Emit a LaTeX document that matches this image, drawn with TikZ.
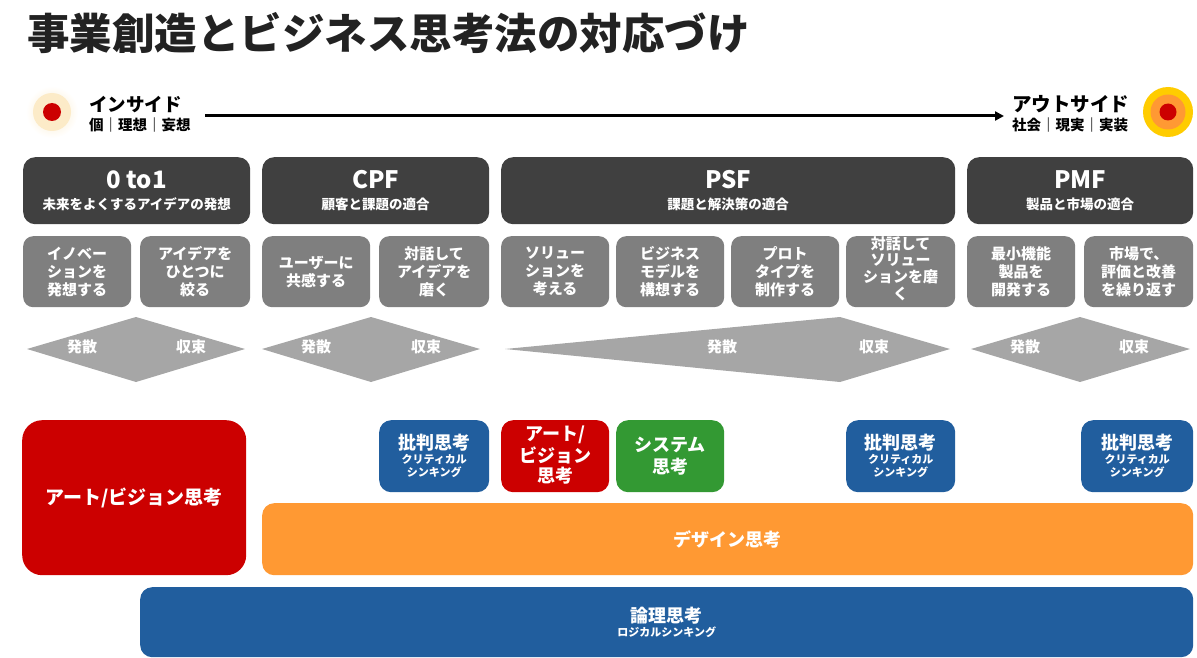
\documentclass[tikz,border=0pt]{standalone}
\usepackage{fontspec}
\setmainfont{Noto Sans CJK JP}
\usetikzlibrary{arrows.meta}
\definecolor{titleink}{HTML}{222222}
\definecolor{phasegray}{HTML}{404040}
\definecolor{stepgray}{HTML}{7F7F7F}
\definecolor{wavegray}{HTML}{A6A6A6}
\definecolor{artred}{HTML}{CC0000}
\definecolor{logicblue}{HTML}{215E9E}
\definecolor{systemgreen}{HTML}{339933}
\definecolor{designorange}{HTML}{FF9933}
\definecolor{glowcream}{HTML}{FCEBC8}
\definecolor{sunyellow}{HTML}{FFCC00}

\begin{document}
\begin{tikzpicture}[x=1pt, y=-1pt]
    \tikzstyle{phasebox}=[fill=phasegray, rounded corners=12pt, anchor=north west, minimum height=67pt, text=white, align=center, inner sep=0pt, font=\fontsize{13.5}{16}\selectfont\bfseries]
    \tikzstyle{stepbox}=[fill=stepgray, rounded corners=10pt, anchor=north west, minimum height=71pt, text=white, align=center, inner sep=0pt, font=\fontsize{15}{18}\selectfont\bfseries]
    \tikzstyle{wavelabel}=[text=white, inner sep=0pt, font=\fontsize{15}{18}\selectfont\bfseries]
    \tikzstyle{thinkbox}=[rounded corners=12pt, anchor=north west, text=white, align=center, inner sep=0pt, font=\fontsize{18}{22}\selectfont\bfseries]
    \tikzstyle{critbox}=[thinkbox, fill=logicblue, minimum height=72pt, font=\fontsize{11}{13}\selectfont\bfseries]
    \useasboundingbox (0,0) rectangle (1197,658);
    \node[anchor=west, inner sep=0pt, text=titleink, font=\fontsize{42.5}{43}\selectfont\bfseries] (title) at (27,33) {事業創造とビジネス思考法の対応づけ};
    % inside / outside
    \shade[inner color=glowcream, outer color=white] (52,112) circle (26);
    \fill[glowcream] (52,112) circle (19);
    \node[circle, fill=artred, minimum size=18pt, inner sep=0pt] (insidedot) at (52,112) {};
    \node[anchor=west, align=left, inner sep=0pt, font=\fontsize{14.5}{16}\selectfont\bfseries] (inside) at (89,114)
      {{\fontsize{18.5}{21}\selectfont インサイド}\\[3pt]個｜理想｜妄想};
    \node[circle, fill=sunyellow, minimum size=50pt, inner sep=0pt] (outsideglow) at (1168,112) {};
    \node[circle, fill=designorange, minimum size=35pt, inner sep=0pt] (outsidering) at (1168,112) {};
    \node[circle, fill=artred, minimum size=17pt, inner sep=0pt] (outsidedot) at (1168,112) {};
    \node[anchor=west, align=left, inner sep=0pt, font=\fontsize{14.5}{16}\selectfont\bfseries] (outside) at (1012,114)
      {{\fontsize{19.5}{21}\selectfont アウトサイド}\\[3pt]社会｜現実｜実装};
    \coordinate (flowfrom) at (205,116);
    \coordinate (flowto) at (1004,116);
    \draw[line width=3pt, -{Triangle[length=9pt, width=9pt]}] (flowfrom) -- (flowto);
    % phases
    \node[phasebox, minimum width=227pt] (zero) at (23,157)
      {{\fontsize{24}{26}\selectfont 0 to1}\\[5pt]未来をよくするアイデアの発想};
    \node[phasebox, minimum width=227pt] (cpf) at (262,157)
      {{\fontsize{24}{26}\selectfont CPF}\\[5pt]顧客と課題の適合};
    \node[phasebox, minimum width=454pt] (psf) at (501,157)
      {{\fontsize{24}{26}\selectfont PSF}\\[5pt]課題と解決策の適合};
    \node[phasebox, minimum width=226pt] (pmf) at (967,157)
      {{\fontsize{24}{26}\selectfont PMF}\\[5pt]製品と市場の適合};
    % steps
    \node[stepbox, minimum width=108pt] (innovate) at (23,236) {イノベー\\ションを\\発想する};
    \node[stepbox, minimum width=110pt] (narrow) at (140,236) {アイデアを\\ひとつに\\絞る};
    \node[stepbox, minimum width=108pt] (empathy) at (262,236) {ユーザーに\\共感する};
    \node[stepbox, minimum width=110pt] (refineidea) at (379,236) {対話して\\アイデアを\\磨く};
    \node[stepbox, minimum width=108pt] (solution) at (501,236) {ソリュー\\ションを\\考える};
    \node[stepbox, minimum width=108pt] (model) at (616,236) {ビジネス\\モデルを\\構想する};
    \node[stepbox, minimum width=108pt] (prototype) at (731,236) {プロト\\タイプを\\制作する};
    \node[stepbox, minimum width=109pt] (refinesol) at (846,236) {\raisebox{8pt}{\shortstack{対話して\\ソリュー\\ションを磨\\く}}};
    \node[stepbox, minimum width=108pt] (mvp) at (967,236) {最小機能\\製品を\\開発する};
    \node[stepbox, minimum width=109pt] (iterate) at (1084,236) {市場で、\\評価と改善\\を繰り返す};
    % diverge / converge
    \fill[wavegray] (27,349) -- (136,317) -- (245,349) -- (136,382) -- cycle;
    \fill[wavegray] (262,349) -- (371,317) -- (480,349) -- (371,382) -- cycle;
    \fill[wavegray] (505,349) -- (840,317) -- (950,349) -- (840,382) -- cycle;
    \fill[wavegray] (971,349) -- (1080,317) -- (1190,349) -- (1080,382) -- cycle;
    \node[wavelabel] (diverge1) at (82,347) {発散};
    \node[wavelabel] (converge1) at (191,347) {収束};
    \node[wavelabel] (diverge2) at (316,347) {発散};
    \node[wavelabel] (converge2) at (426,347) {収束};
    \node[wavelabel] (diverge3) at (722,347) {発散};
    \node[wavelabel] (converge3) at (874,347) {収束};
    \node[wavelabel] (diverge4) at (1025,347) {発散};
    \node[wavelabel] (converge4) at (1134,347) {収束};
    % ways of thinking
    \node[thinkbox, fill=artred, rounded corners=20pt, minimum width=224pt, minimum height=155pt, font=\fontsize{19}{22}\selectfont\bfseries] (artbig) at (22,420) {アート/ビジョン思考};
    \node[critbox, minimum width=110pt] (critical1) at (379,420)
      {{\fontsize{18}{20}\selectfont 批判思考}\\[1pt]クリティカル\\シンキング};
    \node[thinkbox, fill=artred, minimum width=108pt, minimum height=72pt] (artsmall) at (501,420)
      {\raisebox{4pt}{\shortstack{アート/\\ビジョン\\思考}}};
    \node[thinkbox, fill=systemgreen, minimum width=108pt, minimum height=72pt] (system) at (616,420) {システム\\思考};
    \node[critbox, minimum width=109pt] (critical2) at (846,420)
      {{\fontsize{18}{20}\selectfont 批判思考}\\[1pt]クリティカル\\シンキング};
    \node[critbox, minimum width=112pt] (critical3) at (1081,420)
      {{\fontsize{18}{20}\selectfont 批判思考}\\[1pt]クリティカル\\シンキング};
    \node[thinkbox, fill=designorange, minimum width=931pt, minimum height=72pt] (design) at (262,503) {デザイン思考};
    \node[thinkbox, fill=logicblue, minimum width=1053pt, minimum height=70pt, font=\fontsize{11}{13}\selectfont\bfseries] (logic) at (140,587)
      {{\fontsize{18}{20}\selectfont 論理思考}\\[1pt]ロジカルシンキング};
  \end{tikzpicture}
\end{document}
